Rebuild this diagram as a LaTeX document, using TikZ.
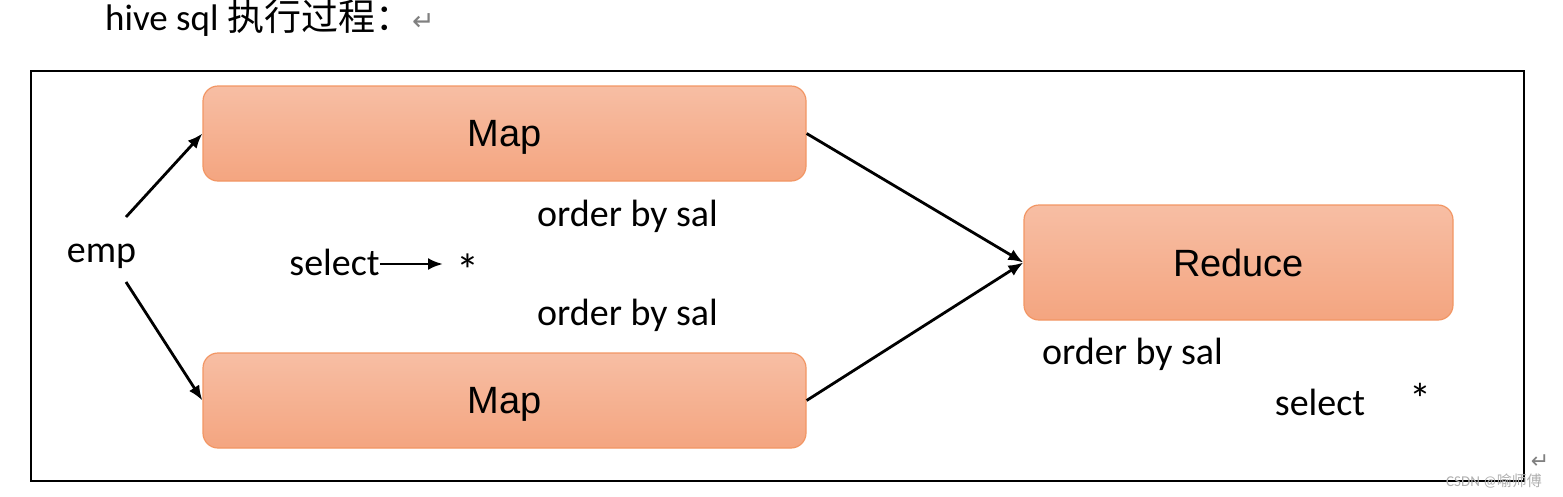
\documentclass[tikz,border=0pt]{standalone}
\usepackage{fontspec}
\setmainfont{Carlito}
\newfontfamily\arialfont{Liberation Sans}
\newfontfamily\cjkfont{Noto Sans CJK SC}
\newfontfamily\symbolfont{DejaVu Sans}
\usetikzlibrary{shapes,arrows.meta}
\definecolor{boxtop}{RGB}{247,190,164}
\definecolor{boxbottom}{RGB}{244,165,128}
\definecolor{boxline}{RGB}{242,150,100}
\definecolor{markgray}{RGB}{128,128,128}
\definecolor{wmgray}{RGB}{175,175,175}

\begin{document}
\begin{tikzpicture}[x=1pt, y=-1pt, auto]
    % Define block styles
    \tikzstyle{block} = [rectangle, draw=boxline, line width=1.2pt,
        top color=boxtop, bottom color=boxbottom, rounded corners=15pt,
        inner sep=0pt, text depth=0pt, font=\arialfont\fontsize{38}{44}\selectfont]
    \tikzstyle{word} = [inner sep=0pt, font=\fontsize{38}{44}\selectfont]
    \tikzstyle{line} = [draw, line width=2.8pt, -{Latex[length=15pt, width=12pt]}]

    \useasboundingbox (0,0) rectangle (1563,496);

    % Title and frame
    \node [word, anchor=base west, font=\fontsize{37}{44}\selectfont] (title) at (105,30)
        {hive sql {\cjkfont 执行过程：}{\symbolfont\color{markgray}\fontsize{27}{30}\selectfont ↵}};
    \draw [line width=1.5pt] (31,71) rectangle (1524,481);

    % Blocks
    \node [block, minimum width=603pt, minimum height=95pt] (mapA) at (504.5,133.5) {Map};
    \node [block, minimum width=603pt, minimum height=95pt] (mapB) at (504.5,400.5) {Map};
    \node [block, minimum width=429pt, minimum height=115pt] (reduce) at (1238.5,262.5) {Reduce};

    % Texts
    \node [word, anchor=base] (emp) at (101.5,262) {emp};
    \node [word, anchor=base] (selectA) at (334.5,275) {select};
    \node [word, font=\fontsize{46}{50}\selectfont] (starA) at (468,270) {*};
    \node [word, anchor=base] (orderA) at (627.5,226) {order by sal};
    \node [word, anchor=base] (orderB) at (627.5,325) {order by sal};
    \node [word, anchor=base] (orderC) at (1132.5,364) {order by sal};
    \node [word, anchor=base] (selectB) at (1320,415) {select};
    \node [word, font=\fontsize{44}{50}\selectfont] (starB) at (1420,399) {*};
    \coordinate (empUp) at (126,217);
    \coordinate (empDown) at (126,282);
    \coordinate (selEnd) at (443,264);

    % Paths
    \path [line] (empUp) -- (mapA.west);
    \path [line] (empDown) -- (mapB.west);
    \path [line] (selectA.east |- selEnd) -- (selEnd);
    \path [line] (mapA.east) -- (reduce.west);
    \path [line] (mapB.east) -- (reduce.west);

    % Marks
    \node [inner sep=0pt, font=\symbolfont\fontsize{22}{26}\selectfont, text=markgray] (retmark) at (1540,462) {↵};
    \node [inner sep=0pt, anchor=base west, font=\fontsize{15}{18}\selectfont, text=wmgray] (watermark) at (1446,486)
        {CSDN @{\cjkfont 喻师傅}};
\end{tikzpicture}
\end{document}
